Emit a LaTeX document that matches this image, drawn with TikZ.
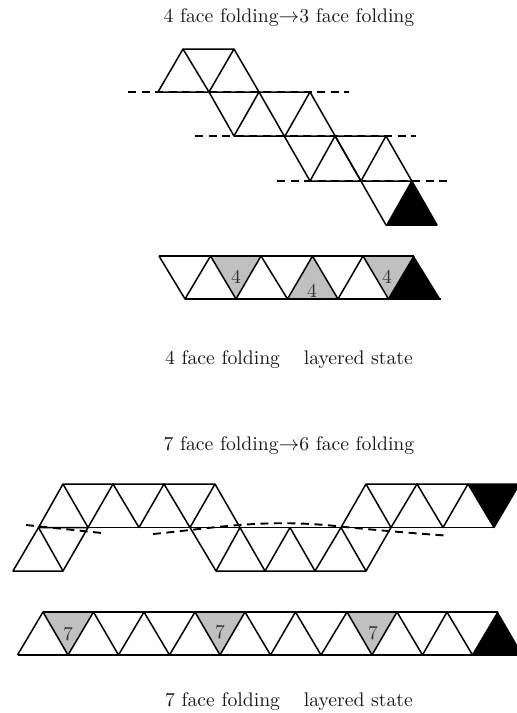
\documentclass[tikz,border=0pt]{standalone}
\usepackage{amsmath, amssymb}
\usepackage{xcolor}
\definecolor{facegray}{RGB}{192, 192, 192}
\usetikzlibrary{positioning, calc}
\font\lmtenfont="[lmroman10-regular.otf]" at 19.7pt
\tikzset{
  foldedge/.style={draw=black, line width=1.5pt, line join=round},
  crease/.style={draw=black, line width=1.9pt, dash pattern=on 8pt off 5.5pt},
  caption/.style={font=\fontsize{19.7}{24}\selectfont\lmtenfont, inner sep=0pt, anchor=base, text=black!90},
  facenum/.style={font=\fontsize{19.7}{24}\selectfont\lmtenfont, inner sep=0pt, text=black!80}
}

\begin{document}
\begin{tikzpicture}[x=1pt, y=-1pt]
  \useasboundingbox (0,0) rectangle (517,713);
  \clip (0,0) rectangle (517,713);

  % 4 face folding, strip
  \node[caption] (titlefour) at (289,22) {4 face folding$\rightarrow$3 face folding};
  \fill[black] (411,181) -- (386,225) -- (437,225) -- cycle;
  \draw[foldedge] (158,92) -- (183,49) -- (234,49) -- (259,92);
  \draw[foldedge] (158,92) -- (310,92) -- (386,225) -- (437,225) -- (386,136) -- (234,136) -- (209,92);
  \draw[foldedge] (183,49) -- (209,92) -- (234,49);
  \draw[foldedge] (234,136) -- (259,92) -- (310,181) -- (411,181);
  \draw[foldedge] (285,136) -- (310,92);
  \draw[foldedge] (310,181) -- (335,136) -- (361,181) -- (386,136);
  \draw[crease] (128,92) -- (349,92);
  \draw[crease] (195,136) -- (416,136);
  \draw[crease] (277,181) -- (451,181);

  % 4 face folding, layered
  \fill[facegray] (210.5,256) -- (261,256) -- (236,299) -- cycle;
  \fill[facegray] (287.5,299) -- (338,299) -- (312.5,256) -- cycle;
  \fill[facegray] (363,256) -- (414,256) -- (388.5,299) -- cycle;
  \fill[black] (414,256) -- (388.5,299) -- (440.5,299) -- cycle;
  \draw[foldedge] (159,256) -- (414,256);
  \draw[foldedge] (185,299) -- (440.5,299);
  \draw[foldedge] (159,256) -- (185,299) -- (210.5,256) -- (236,299) -- (261,256) -- (287.5,299)
    -- (312.5,256) -- (338,299) -- (363,256) -- (388.5,299) -- (414,256);
  \node[facenum] (layerfoura) at (236,276.5) {4};
  \node[facenum] (layerfourb) at (312,291) {4};
  \node[facenum] (layerfourc) at (387,277) {4};
  \node[caption] (capfour) at (289,364) {4 face folding\quad\hspace{4pt}layered state};

  % 7 face folding, strip
  \node[caption] (titleseven) at (289,450) {7 face folding$\rightarrow$6 face folding};
  \fill[black] (468,484) -- (494,527.5) -- (519.5,484) -- cycle;
  \draw[foldedge] (38.5,527.5) -- (494,527.5);
  \draw[foldedge] (13,571) -- (63,571) -- (88,527.5) -- (38.5,527.5) -- cycle;
  \draw[foldedge] (38.5,527.5) -- (63,571);
  \draw[foldedge] (38.5,527.5) -- (63,484) -- (215,484) -- (240,527.5);
  \draw[foldedge] (63,484) -- (88,527.5) -- (113,484) -- (139,527.5) -- (164,484) -- (190,527.5) -- (215,484);
  \draw[foldedge] (190,527.5) -- (216,571) -- (366,571) -- (391,527.5);
  \draw[foldedge] (216,571) -- (240,527.5) -- (265,571) -- (290,527.5) -- (315,571) -- (341,527.5) -- (366,571);
  \draw[foldedge] (341,527.5) -- (366,484) -- (519,484);
  \draw[foldedge] (366,484) -- (391,527.5) -- (417,484) -- (443,527.5) -- (468,484) -- (494,527.5) -- (519.5,484);
  \draw[crease] (26,525) -- (102,533);
  \draw[crease] (153,534) .. controls (215,528) and (265,518) .. (340,526.5)
    .. controls (375,530) and (410,533) .. (445,535.5);

  % 7 face folding, layered
  \fill[facegray] (43,612) -- (93.5,612) -- (68,655) -- cycle;
  \fill[facegray] (195,612) -- (245,612) -- (220,655) -- cycle;
  \fill[facegray] (347,612) -- (397,612) -- (372,655) -- cycle;
  \fill[black] (498,612) -- (472.5,655) -- (523,655) -- cycle;
  \draw[foldedge] (43,612) -- (498,612);
  \draw[foldedge] (17.5,655) -- (517,655);
  \draw[foldedge] (17.5,655) -- (43,612) -- (68,655) -- (93.5,612) -- (118.5,655) -- (144,612) -- (169.5,655)
    -- (195,612) -- (220,655) -- (245,612) -- (270.5,655) -- (295.5,612) -- (321,655) -- (347,612)
    -- (372,655) -- (397,612) -- (422.5,655) -- (447,612) -- (472.5,655) -- (498,612);
  \node[facenum] (layersevena) at (68,634) {7};
  \node[facenum] (layersevenb) at (220,632) {7};
  \node[facenum] (layersevenc) at (373,633) {7};
  \node[caption] (capseven) at (289,706) {7 face folding\quad\hspace{4pt}layered state};
\end{tikzpicture}
\end{document}
